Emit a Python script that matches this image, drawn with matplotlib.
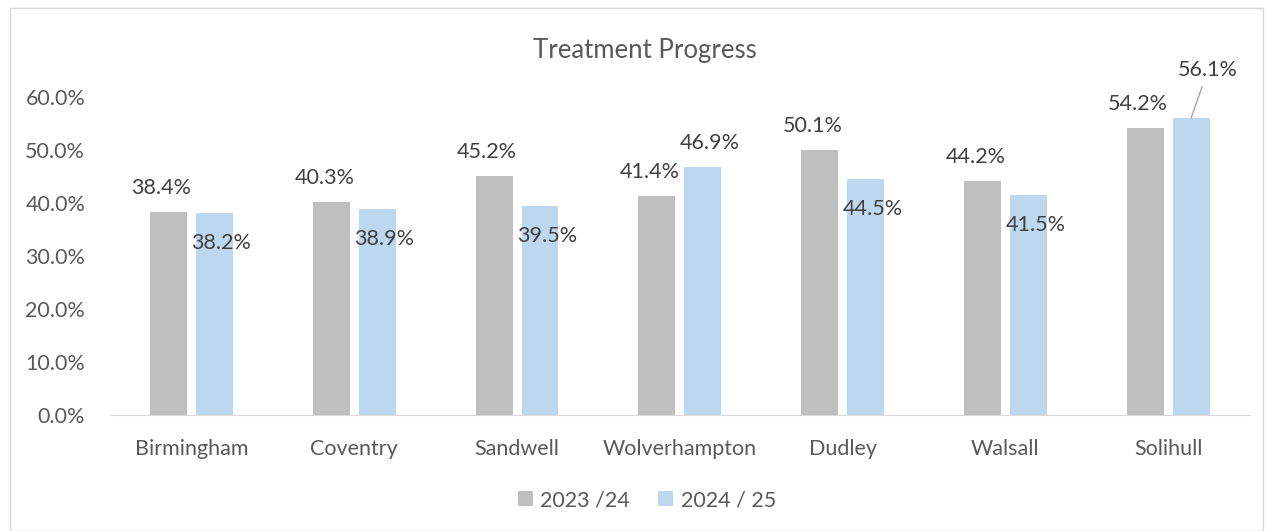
import numpy as np
import matplotlib.pyplot as plt
from matplotlib.patches import Rectangle

plt.rcParams['font.family'] = ['Lato', 'DejaVu Sans']

areas = ['Birmingham', 'Coventry', 'Sandwell', 'Wolverhampton', 'Dudley', 'Walsall', 'Solihull']
y2324 = [38.4, 40.3, 45.2, 41.4, 50.1, 44.2, 54.2]
y2425 = [38.2, 38.9, 39.5, 46.9, 44.5, 41.5, 56.1]
series_names = ['2023 /24', '2024 / 25']

# label offsets (pixels) from top of each bar
off_2324 = [(-7, 24)] * 7
off_2425 = [(7, -30), (7, -30), (7, -30), (7, 24), (7, -30), (7, -30), (17, 48)]

grey = '#BFBFBF'
blue = '#BDD7EE'
txt = '#404040'
tick = '#595959'
fs = 15.5

fig = plt.figure(figsize=(12.66, 5.31), dpi=100, facecolor='white')
fig.patches.append(Rectangle((0.008, 0.0), 0.99, 0.984, transform=fig.transFigure,
                             fill=False, edgecolor='#D9D9D9', lw=1))
ax = fig.add_axes([0.087, 0.2185, 0.9, 0.5985])

x = np.arange(len(areas))
w = 0.227
d = 0.141
b1 = ax.bar(x - d, y2324, w, color=grey, label=series_names[0])
b2 = ax.bar(x + d, y2425, w, color=blue, label=series_names[1])

for i in range(len(areas)):
    ax.annotate(f'{y2324[i]:.1f}%', (x[i] - d, y2324[i]), xytext=off_2324[i],
                textcoords='offset pixels', ha='center', va='center',
                fontsize=fs, color=txt, annotation_clip=False)
    dx, dy = off_2425[i]
    if dy > 30:
        # leader line like excel
        ax.annotate(f'{y2425[i]:.1f}%', (x[i] + d, y2425[i]), xytext=(dx, dy),
                    textcoords='offset pixels', ha='center', va='center',
                    fontsize=fs, color=txt, annotation_clip=False,
                    arrowprops=dict(arrowstyle='-', color='#A6A6A6', lw=1,
                                    shrinkA=3, shrinkB=0))
    else:
        ax.annotate(f'{y2425[i]:.1f}%', (x[i] + d, y2425[i]), xytext=(dx, dy),
                    textcoords='offset pixels', ha='center', va='center',
                    fontsize=fs, color=txt, annotation_clip=False)

ax.set_xlim(-0.5, len(areas) - 0.5)
ax.set_ylim(0, 60)
ax.set_yticks(np.arange(0, 61, 10))
ax.set_yticklabels([f'{v:.1f}%' for v in range(0, 61, 10)])
ax.set_xticks(x)
ax.set_xticklabels(areas)
ax.tick_params(axis='both', length=0, labelsize=fs, labelcolor=tick)
ax.tick_params(axis='y', pad=18)
ax.tick_params(axis='x', pad=17)
for s in ['top', 'right', 'left']:
    ax.spines[s].set_visible(False)
ax.spines['bottom'].set_color('#D9D9D9')

fig.text(0.509, 0.905, 'Treatment Progress', ha='center', va='center', fontsize=18.5, color=tick)
fig.legend(handles=[b1, b2], loc='center', bbox_to_anchor=(0.511, 0.058), ncol=2,
           frameon=False, fontsize=fs, labelcolor=tick, handlelength=0.7,
           handleheight=0.7, handletextpad=0.35, columnspacing=1.3)

fig.savefig('out.png', dpi=100)
